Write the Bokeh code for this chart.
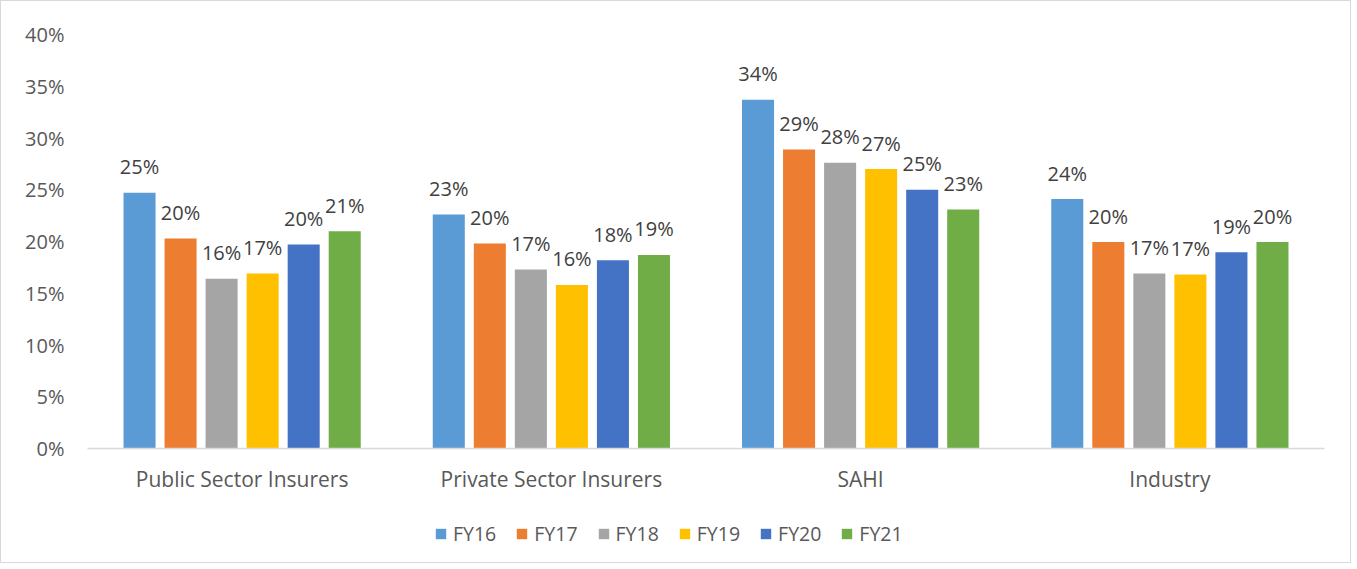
from bokeh.plotting import figure
from bokeh.layouts import column
from bokeh.models import Legend, LegendItem, PrintfTickFormatter, FixedTicker, ColumnDataSource
from bokeh.transform import dodge
from bokeh.embed import file_html
from bokeh.resources import INLINE

categories = ["Public Sector Insurers", "Private Sector Insurers", "SAHI", "Industry"]
years = ["FY16", "FY17", "FY18", "FY19", "FY20", "FY21"]
fy16 = [24.7, 22.6, 33.7, 24.1]
fy17 = [20.3, 19.8, 28.9, 19.95]
fy18 = [16.4, 17.3, 27.6, 16.9]
fy19 = [16.9, 15.8, 27.0, 16.8]
fy20 = [19.7, 18.2, 25.0, 18.96]
fy21 = [21.0, 18.7, 23.1, 19.95]
series = [fy16, fy17, fy18, fy19, fy20, fy21]
colors = ["#5B9BD5", "#ED7D31", "#A5A5A5", "#FFC000", "#4472C4", "#70AD47"]
y_ticks = [0, 5, 10, 15, 20, 25, 30, 35, 40]

FONT = "Open Sans"

p = figure(x_range=categories, y_range=(0, 40), width=1349, height=500,
           output_backend="svg", toolbar_location=None,
           min_border_left=86, min_border_right=26, min_border_top=33, min_border_bottom=53)
p.outline_line_color = None
p.border_fill_color = "white"
p.xgrid.grid_line_color = None
p.ygrid.grid_line_color = None
p.x_range.range_padding = 0

pitch = 0.1327
bw = 0.1036
for i, (yr, vals, c) in enumerate(zip(years, series, colors)):
    src = ColumnDataSource(dict(cat=categories, val=vals,
                                lab=[f"{round(v)}%" for v in vals]))
    off = (i - 2.5) * pitch
    p.vbar(x=dodge("cat", off, range=p.x_range), top="val", width=bw, source=src,
           fill_color=c, line_color=None)
    p.text(x=dodge("cat", off, range=p.x_range), y="val", text="lab", source=src,
           text_align="center", text_baseline="alphabetic", y_offset=-26,
           text_font_size="20px", text_color="#404040", text_font={"value": FONT})

p.yaxis.ticker = FixedTicker(ticks=y_ticks)
p.yaxis.formatter = PrintfTickFormatter(format="%d%%")
p.yaxis.axis_line_color = None
p.yaxis.major_tick_line_color = None
p.yaxis.minor_tick_line_color = None
p.yaxis.major_label_standoff = 17
p.yaxis.major_label_text_font_size = "20px"
p.yaxis.major_label_text_color = "#595959"
p.yaxis.major_label_text_font = FONT

p.xaxis.axis_line_color = "#d9d9d9"
p.xaxis.axis_line_width = 1.5
p.xaxis.major_tick_line_color = None
p.xaxis.minor_tick_line_color = None
p.xaxis.major_label_standoff = 10
p.xaxis.major_label_text_font_size = "21px"
p.xaxis.major_label_text_color = "#595959"
p.xaxis.major_label_text_font = FONT

# legend strip below the chart (hidden helper renderers carry the legend swatches)
pl = figure(width=1349, height=61, x_range=(0, 1), y_range=(0, 1),
            x_axis_type=None, y_axis_type=None, output_backend="svg",
            toolbar_location=None, min_border=0)
pl.outline_line_color = None
pl.xgrid.grid_line_color = None
pl.ygrid.grid_line_color = None
items = []
for yr, vals, c in zip(years, series, colors):
    hsrc = ColumnDataSource(dict(x=[0], top=[vals[0]]))
    r = pl.vbar(x="x", top="top", width=0.1, source=hsrc,
                fill_color=c, line_color=None, visible=False)
    items.append(LegendItem(label=yr, renderers=[r]))
legend = Legend(items=items, orientation="horizontal", location=(347, 15),
                glyph_width=13, glyph_height=13, label_standoff=6, spacing=19,
                label_text_font_size="19.5px", label_text_color="#595959",
                label_text_font=FONT, border_line_color=None, background_fill_alpha=0,
                margin=0, padding=0, label_height=20, click_policy="none")
pl.add_layout(legend, "center")

layout = column(p, pl, spacing=0)
layout.styles = {"border": "1px solid #d9d9d9"}
open("out.html", "w").write(file_html(layout, INLINE))
